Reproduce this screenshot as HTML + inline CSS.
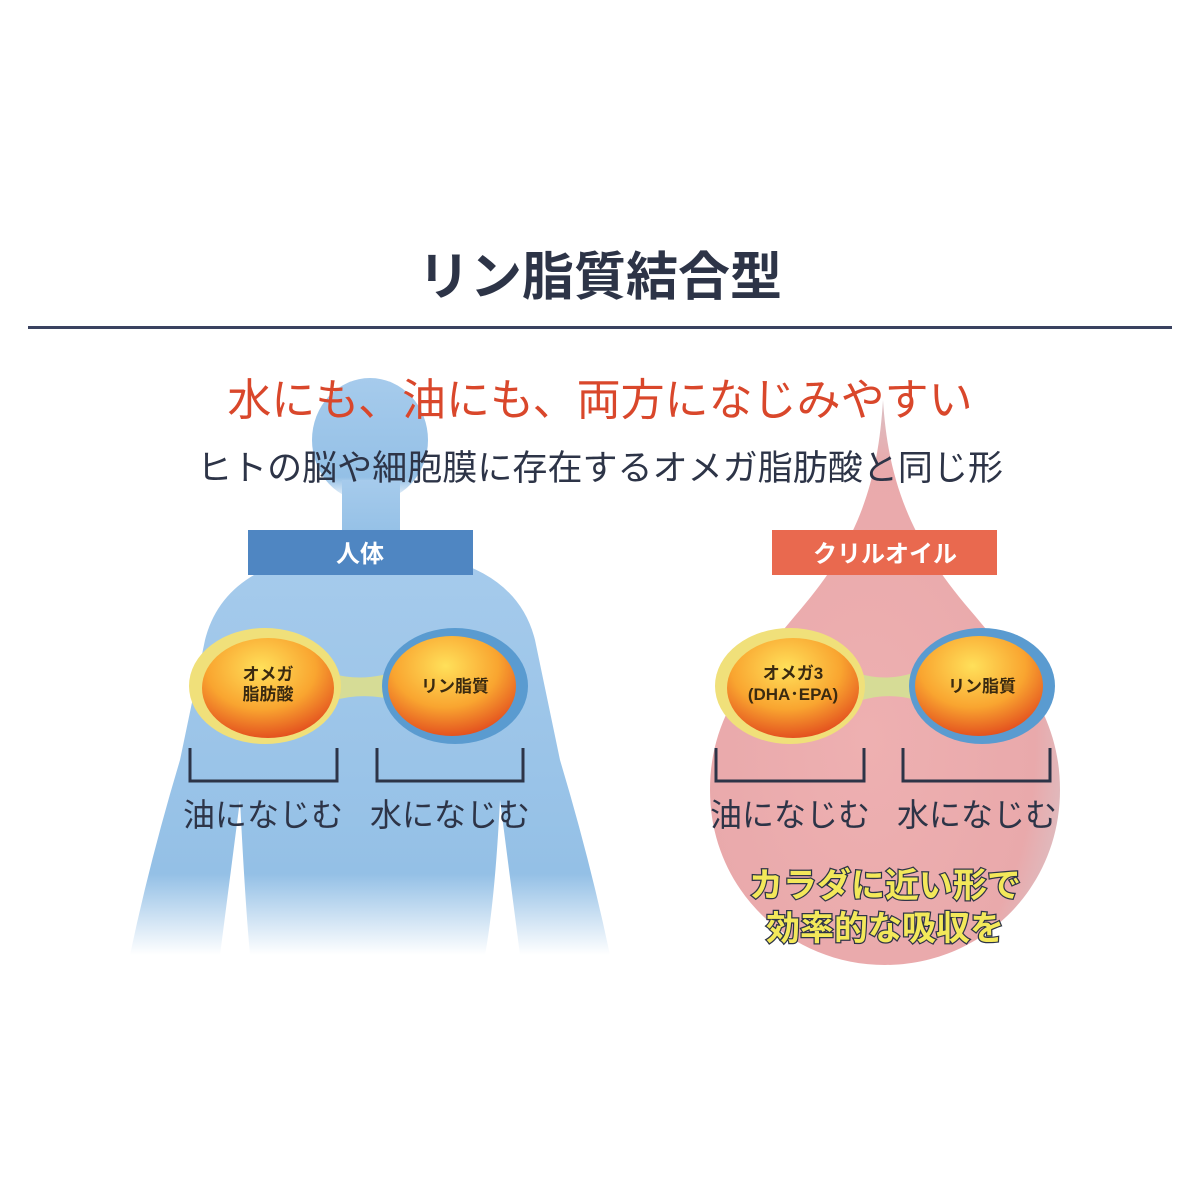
<!DOCTYPE html>
<html><head><meta charset="utf-8"><style>
body{margin:0;background:#fff}
svg{display:block}
text{font-family:"Liberation Sans","Noto Sans CJK JP",sans-serif}
</style></head><body>
<svg width="1200" height="1200" viewBox="0 0 1200 1200" xmlns="http://www.w3.org/2000/svg">
<defs>
<linearGradient id="bodyfade" x1="0" y1="0" x2="0" y2="1">
<stop offset="0" stop-color="#a6cbec"/><stop offset="0.8" stop-color="#94c0e6"/><stop offset="1" stop-color="#ffffff"/>
</linearGradient>
<radialGradient id="drop" cx="0.45" cy="0.6" r="0.6">
<stop offset="0" stop-color="#eeb0b1"/><stop offset="0.8" stop-color="#e9a9ab"/><stop offset="1" stop-color="#dcc0c4"/>
</radialGradient>
<radialGradient id="cap" cx="0.45" cy="0.3" r="0.75">
<stop offset="0" stop-color="#ffe05a"/><stop offset="0.55" stop-color="#f9a530"/><stop offset="1" stop-color="#e0441c"/>
</radialGradient>
</defs>

<text x="600" y="295" font-size="52" font-weight="bold" fill="#2d3447" text-anchor="middle">リン脂質結合型</text>
<rect x="28" y="326" width="1144" height="3" fill="#3a4260"/>

<!-- drop -->
<path d="M883 400 C878 480 860 540 800 610 C745 675 710 720 710 790 C710 890 790 965 885 965 C980 965 1060 890 1060 790 C1060 720 1025 675 970 610 C910 540 888 480 883 400 Z" fill="url(#drop)"/>

<!-- body -->
<g fill="url(#bodyfade)">
<ellipse cx="370" cy="440" rx="58" ry="62"/>
<rect x="342" y="480" width="58" height="70"/>
<path d="M290 560 Q370 540 450 560 Q520 580 535 640 L560 760 Q590 860 610 955 L520 955 L500 800 Q495 900 485 955 L250 955 Q245 900 240 800 L220 955 L130 955 Q150 860 180 760 L205 640 Q220 580 290 560 Z"/>
</g>

<text x="600" y="415" font-size="44" fill="#d9472b" text-anchor="middle">水にも、油にも、両方になじみやすい</text>
<text x="600" y="480" font-size="35" fill="#2d3447" text-anchor="middle" textLength="806">ヒトの脳や細胞膜に存在するオメガ脂肪酸と同じ形</text>

<rect x="248" y="530" width="225" height="45" fill="#4f86c2"/>
<text x="360" y="562" font-size="24" font-weight="bold" fill="#fff" text-anchor="middle">人体</text>
<rect x="772" y="530" width="225" height="45" fill="#e9694f"/>
<text x="885" y="562" font-size="24" font-weight="bold" fill="#fff" text-anchor="middle">クリルオイル</text>

<g>
<path d="M300 660 Q360 695 420 660 L420 710 Q360 680 300 715 Z" fill="#d6dc96"/>
<ellipse cx="265" cy="686" rx="76" ry="58" fill="#f0e07a"/>
<ellipse cx="455" cy="686" rx="73" ry="58" fill="#5a9bd0"/>
<ellipse cx="268" cy="688" rx="66" ry="50" fill="url(#cap)"/>
<ellipse cx="452" cy="686" rx="64" ry="50" fill="url(#cap)"/>
<text x="268" y="680" font-size="17" font-weight="bold" fill="#3a2a10" text-anchor="middle">オメガ</text>
<text x="268" y="700" font-size="17" font-weight="bold" fill="#3a2a10" text-anchor="middle">脂肪酸</text>
<text x="455" y="692" font-size="17" font-weight="bold" fill="#3a2a10" text-anchor="middle">リン脂質</text>
</g>
<g>
<path d="M830 660 Q885 695 940 660 L940 710 Q885 680 830 715 Z" fill="#d6dc96"/>
<ellipse cx="790" cy="686" rx="75" ry="58" fill="#f0e07a"/>
<ellipse cx="982" cy="686" rx="73" ry="58" fill="#5a9bd0"/>
<ellipse cx="793" cy="688" rx="66" ry="50" fill="url(#cap)"/>
<ellipse cx="979" cy="686" rx="64" ry="50" fill="url(#cap)"/>
<text x="793" y="679" font-size="17" font-weight="bold" fill="#3a2a10" text-anchor="middle">オメガ3</text>
<text x="793" y="700" font-size="17" font-weight="bold" fill="#3a2a10" text-anchor="middle">(DHA･EPA)</text>
<text x="982" y="692" font-size="17" font-weight="bold" fill="#3a2a10" text-anchor="middle">リン脂質</text>
</g>

<g fill="none" stroke="#2d3447" stroke-width="3">
<path d="M190 748 V781 H337 V748"/>
<path d="M377 748 V781 H523 V748"/>
<path d="M716 748 V781 H864 V748"/>
<path d="M903 748 V781 H1050 V748"/>
</g>
<g font-size="32" fill="#2d3447" text-anchor="middle">
<text x="263" y="826">油になじむ</text>
<text x="450" y="826">水になじむ</text>
<text x="790" y="826">油になじむ</text>
<text x="977" y="826">水になじむ</text>
</g>
<g font-size="34" font-weight="bold" fill="#f3e85a" stroke="#2d3447" stroke-width="2.5" paint-order="stroke" text-anchor="middle">
<text x="885" y="897">カラダに近い形で</text>
<text x="885" y="940">効率的な吸収を</text>
</g>
</svg>
</body></html>
